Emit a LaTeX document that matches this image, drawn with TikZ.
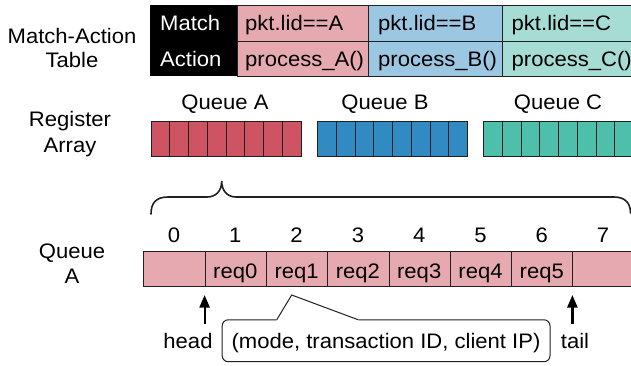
\documentclass[tikz,border=0pt]{standalone}
\usepackage{fontspec}
\setmainfont{Liberation Sans}[FakeStretch=1.05]
\usetikzlibrary{arrows.meta}
\definecolor{tpink}{HTML}{E6A9AF}
\definecolor{tblue}{HTML}{9CC7E2}
\definecolor{tgreen}{HTML}{A5DDD4}
\definecolor{rpink}{HTML}{CF5463}
\definecolor{rblue}{HTML}{318BC2}
\definecolor{rgreen}{HTML}{4DBFAA}
\definecolor{lc}{HTML}{202020}
\begin{document}
\begin{tikzpicture}[x=1pt,y=-1pt,
  txt/.style={font=\fontsize{21}{25}\selectfont, inner sep=0pt, text=black},
  tcell/.style={draw=lc, line width=1pt, anchor=north west, inner sep=0pt, minimum height=35.5pt},
  rcell/.style={draw=lc, line width=1pt, anchor=north west, inner sep=0pt, minimum width=18.75pt, minimum height=35pt},
  qcell/.style={draw=lc, line width=1pt, anchor=north west, inner sep=0pt, minimum width=61.3pt, minimum height=35.3pt, fill=tpink},
  arr/.style={line width=2.2pt, -{Triangle[length=12.5pt,width=10pt]}}]
\useasboundingbox (0,0) rectangle (631,365);
\clip (0,0) rectangle (631,365);
% ---------- match-action table ----------
\node[txt, anchor=base] (mal1) at (72,43) {Match-Action};
\node[txt, anchor=base] (mal2) at (72,67) {Table};
\node[fill=black, anchor=north west, inner sep=0pt, minimum width=87pt, minimum height=71pt] (mbox) at (150,5) {};
\node[tcell, fill=tpink, minimum width=131pt] (mA) at (237,5) {};
\node[tcell, fill=tpink, minimum width=131pt] (aA) at (237,40.5) {};
\node[tcell, fill=tblue, minimum width=134pt] (mB) at (368,5) {};
\node[tcell, fill=tblue, minimum width=134pt] (aB) at (368,40.5) {};
\node[tcell, fill=tgreen, minimum width=140pt] (mC) at (502,5) {};
\node[tcell, fill=tgreen, minimum width=140pt] (aC) at (502,40.5) {};
\node[txt, anchor=base west, text=white] (tm) at (160,30.5) {Match};
\node[txt, anchor=base west, text=white] (ta) at (160,66) {Action};
\node[txt, anchor=base west] (mAt) at (245,30.5) {pkt.lid==A};
\node[txt, anchor=base west] (aAt) at (245,66) {process\_A()};
\node[txt, anchor=base west] (mBt) at (378,30.5) {pkt.lid==B};
\node[txt, anchor=base west] (aBt) at (378,66) {process\_B()};
\node[txt, anchor=base west] (mCt) at (511.5,30.5) {pkt.lid==C};
\node[txt, anchor=base west] (aCt) at (511.5,66) {process\_C()};
% ---------- register array ----------
\node[txt, anchor=base] (ral1) at (70,126.5) {Register};
\node[txt, anchor=base] (ral2) at (70,152) {Array};
\node[txt, anchor=base] (qAl) at (225,109) {Queue A};
\node[txt, anchor=base] (qBl) at (385,109) {Queue B};
\node[txt, anchor=base] (qCl) at (558,109) {Queue C};
\foreach \i in {0,...,7}{
  \node[rcell, fill=rpink]  (ra\i) at (150.7+18.75*\i,120.7) {};
  \node[rcell, fill=rblue]  (rb\i) at (317.3+18.7*\i,120.7) {};
  \node[rcell, fill=rgreen] (rc\i) at (483.3+18.7*\i,120.7) {};
}
% ---------- brace ----------
\draw[line width=1.6pt, lc, line cap=round]
  (151,214) .. controls (151,203) and (156,197) .. (168,197) -- (207,197)
  .. controls (216,197) and (221.7,191) .. (221.7,181)
  .. controls (221.7,191) and (227.5,197) .. (236,197) -- (614,197)
  .. controls (625,197) and (630.5,203) .. (630.5,213);
% ---------- queue A ----------
\node[txt, anchor=base] (qal1) at (72,258) {Queue};
\node[txt, anchor=base] (qal2) at (72,283.3) {A};
\foreach \i in {0,...,7}{
  \node[qcell] (q\i) at (143.3+61.3*\i,250.7) {};
  \node[txt, anchor=base] (n\i) at (174+61.3*\i,242) {\i};
}
\foreach \i in {0,...,5}{
  \node[txt, anchor=base] (r\i) at (235.3+61.3*\i,278) {req\i};
}
% ---------- head / tail ----------
\node[txt, anchor=base] (head) at (188,348) {head};
\node[txt, anchor=base] (tail) at (575,348) {tail};
\coordinate (hb) at (204.6,324);
\coordinate (ht) at (204.6,295);
\coordinate (tb) at (572.4,324);
\coordinate (tt) at (572.4,295);
\draw[arr] (hb) -- (ht);
\draw[arr] (tb) -- (tt);
% ---------- callout ----------
\node[txt, anchor=base] (cb) at (386,348) {(mode, transaction ID, client IP)};
\draw[line width=1pt, lc, rounded corners=6pt]
  (276.7,319.8) -| (222.2,361.7) -| (550,319.8) -- (358.3,319.8);
\draw[line width=1pt, lc, line join=miter] (276.7,319.8) -- (291.7,295) -- (358.3,319.8);
\end{tikzpicture}
\end{document}
